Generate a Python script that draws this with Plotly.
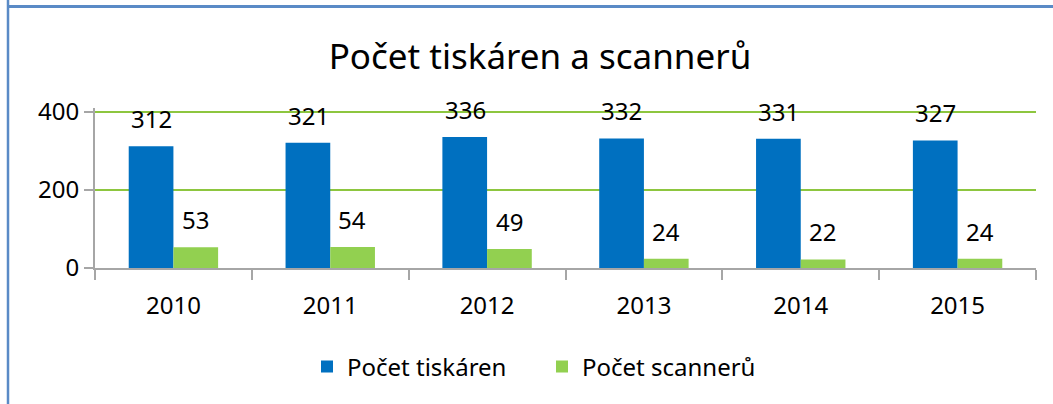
import plotly.graph_objects as go

years = ["2010", "2011", "2012", "2013", "2014", "2015"]
printers = [312, 321, 336, 332, 331, 327]
scanners = [53, 54, 49, 24, 22, 24]
y_ticks = [0, 200, 400]

BLUE = "#0070C0"
GREEN = "#92D050"
FONT = "Noto Sans"

fig = go.Figure()
fig.add_trace(go.Bar(x=years, y=printers, name="Počet tiskáren", marker=dict(color=BLUE, line=dict(width=0))))
fig.add_trace(go.Bar(x=years, y=scanners, name="Počet scannerů", marker=dict(color=GREEN, line=dict(width=0))))

annotations = []
for xs, vals in ((-22, printers), (22, scanners)):
    for i, v in enumerate(vals):
        annotations.append(dict(x=i, y=v, text=str(v), showarrow=False, xref="x", yref="y",
                                xshift=xs, yshift=9, yanchor="bottom",
                                font=dict(family=FONT, size=24, color="#000")))

YMAX = 410
W, H = 1053, 404
L, R, B = 95, 17, 136
T = int(round((H - B) - 156 * YMAX / 400))
pw, ph = W - L - R, H - T - B
def px_x(x):
    return (x - L) / pw
def px_y(y):
    return (H - B - y) / ph

shapes = [
    dict(type="line", xref="paper", yref="paper", x0=px_x(8), x1=px_x(1060), y0=px_y(6.5), y1=px_y(6.5),
         line=dict(color="#5A8AC6", width=3)),
    dict(type="line", xref="paper", yref="paper", x0=px_x(8), x1=px_x(8), y0=px_y(-5), y1=px_y(410),
         line=dict(color="#5A8AC6", width=2.5)),
]

fig.update_layout(
    width=W, height=H,
    margin=dict(l=L, r=R, t=T, b=B, autoexpand=False),
    paper_bgcolor="white", plot_bgcolor="white",
    title=dict(text="Počet tiskáren a scannerů", x=540 / W, xanchor="center", y=1 - 57 / H, yanchor="middle",
               font=dict(family=FONT, size=35, color="#000")),
    barmode="group", bargap=0.43, bargroupgap=0,
    font=dict(family=FONT, size=24, color="#000"),
    showlegend=True,
    legend=dict(orientation="h", x=px_x(542), xanchor="center", y=px_y(367), yanchor="middle",
                font=dict(family=FONT, size=24), traceorder="normal",
                entrywidth=190, entrywidthmode="pixels"),
    annotations=annotations,
    shapes=shapes,
)
fig.update_xaxes(type="category", showgrid=False, showline=True, linecolor="#A6A6A6", linewidth=2,
                 ticks="outside", tickson="boundaries", ticklen=10, tickcolor="#A6A6A6", tickwidth=2,
                 tickfont=dict(family=FONT, size=24), zeroline=False, tickangle=0,
                 ticklabelstandoff=15)
fig.update_yaxes(range=[0, YMAX], tickvals=y_ticks, showgrid=True, gridcolor="#8DC63F", gridwidth=1.5,
                 showline=True, linecolor="#A6A6A6", linewidth=2, ticks="outside", ticklen=9,
                 tickcolor="#A6A6A6", tickwidth=2, zeroline=False, tickfont=dict(family=FONT, size=24),
                 ticklabelstandoff=0)

fig.write_html("out.html", config=dict(displayModeBar=False),
               post_script="document.body.style.margin='0';document.body.style.overflow='hidden';")
